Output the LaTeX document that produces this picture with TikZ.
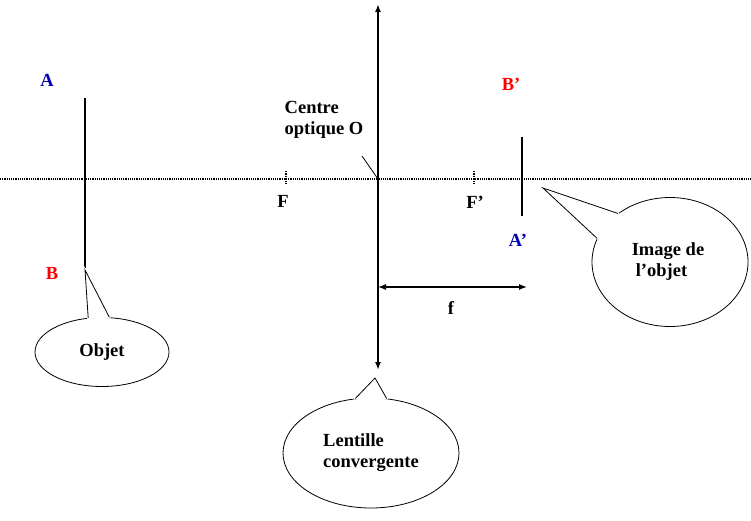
\documentclass[tikz,border=0pt]{standalone}
\usepackage{fontspec}
\setmainfont{Liberation Serif}
\usetikzlibrary{shapes.geometric,arrows.meta}
\begin{document}
\begin{tikzpicture}[x=1pt,y=-1pt,
  lbl/.style={font=\fontsize{18.5}{21}\selectfont\bfseries, inner sep=0pt},
  callout/.style={ellipse, draw, fill=white, line width=0.8pt, inner sep=0pt, font=\fontsize{18.5}{21}\selectfont\bfseries, align=left},
  bar/.style={line width=2.6pt},
  cover/.style={fill=white, draw=white, line width=2pt},
  tip/.style={{Latex[length=8pt,width=6pt]}-{Latex[length=8pt,width=6pt]}}]
\useasboundingbox (0,0) rectangle (751,520);
% axis
\coordinate (axL) at (0,179); \coordinate (axR) at (751,179);
\draw[densely dotted, line width=1.2pt] (axL) -- (axR);
% lens
\coordinate (lensT) at (378,4); \coordinate (lensB) at (378,370); \coordinate (O) at (378,179);
\draw[tip, line width=1.6pt] (lensT) -- (lensB);
% object
\coordinate (A) at (85,98); \coordinate (B) at (85,268);
\draw[bar] (A) -- (B);
\node[lbl, text=blue!70!black] (lA) at (47,80) {A};
\node[lbl, text=red] (lB) at (52,273) {B};
% foci
\coordinate (F1) at (286,171); \coordinate (F2) at (286,185);
\draw[densely dotted, line width=1.4pt] (F1) -- (F2);
\node[lbl] (lF) at (283,201) {F};
\coordinate (G1) at (474,171); \coordinate (G2) at (474,185);
\draw[densely dotted, line width=1.4pt] (G1) -- (G2);
\node[lbl] (lG) at (475,202) {F’};
% image
\coordinate (Bp) at (522,137); \coordinate (Ap) at (522,216);
\draw[bar] (Bp) -- (Ap);
\node[lbl, text=red] (lBp) at (511,84) {B’};
\node[lbl, text=blue!70!black] (lAp) at (518,240) {A’};
% centre optique
\node[lbl, align=left] (co) at (324,120) {Centre\\optique O};
\coordinate (coE) at (362,156);
\draw[line width=0.8pt] (coE) -- (O);
% focal length
\coordinate (f1) at (378,287); \coordinate (f2) at (527,287);
\draw[tip, line width=1.2pt] (f1) -- (f2);
\node[lbl] (lf) at (451,308) {f};
% callouts
\node[callout, minimum width=134pt, minimum height=69pt] (cobj) at (102,352) {Objet};
\coordinate (tObj) at (85,270);
\filldraw[cover] (cobj.112) -- (tObj) -- (cobj.78) -- cycle;
\draw[line width=0.8pt] (cobj.112) -- (tObj) -- (cobj.78);
\node[callout, minimum width=156pt, minimum height=129pt] (cimg) at (670,262) {\hspace*{-4pt}Image de\\l’objet};
\coordinate (tImg) at (543,188);
\filldraw[cover] (cimg.162) -- (tImg) -- (cimg.137) -- cycle;
\draw[line width=0.8pt] (cimg.162) -- (tImg) -- (cimg.137);
\node[callout, minimum width=176pt, minimum height=110pt] (clen) at (371,453) {Lentille\\convergente};
\coordinate (tLen) at (375,378);
\filldraw[cover] (clen.106) -- (tLen) -- (clen.74) -- cycle;
\draw[line width=0.8pt] (clen.106) -- (tLen) -- (clen.74);
\end{tikzpicture}
\end{document}
